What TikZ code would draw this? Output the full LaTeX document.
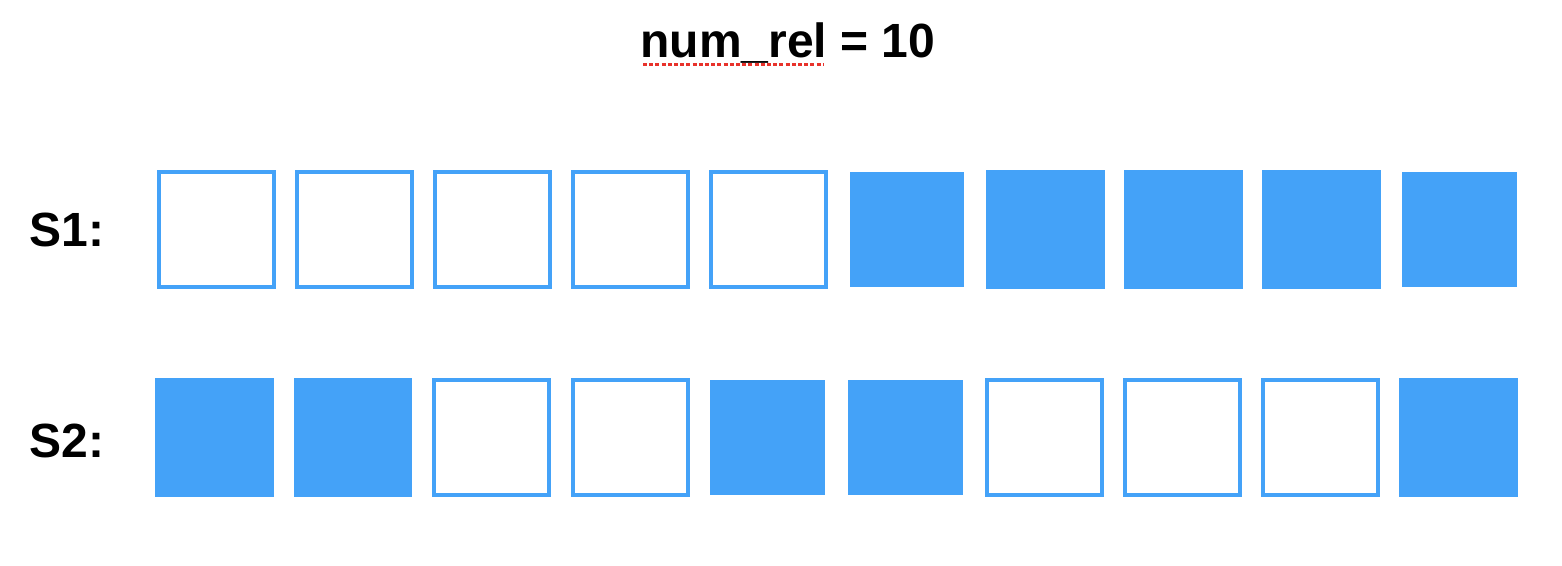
\documentclass[tikz,border=0pt]{standalone}
\usepackage{fontspec}
\setmainfont{Liberation Sans}
\definecolor{cellblue}{HTML}{44A2F8}
\definecolor{spellred}{HTML}{E8322B}
\tikzset{
  lbl/.style={font=\fontsize{24pt}{28pt}\selectfont\bfseries, inner sep=0pt, anchor=base},
  obox/.style={draw=cellblue, line width=2pt, fill=white, inner sep=0pt, minimum width=57.5pt, minimum height=57.5pt},
  fbox/.style={fill=cellblue, inner sep=0pt},
}
\begin{document}
\begin{tikzpicture}[x=0.5pt,y=-0.5pt]
\useasboundingbox (0,0) rectangle (1562,566);
% title
\draw[spellred, line width=1.3pt, dash pattern=on 2pt off 1.1pt] (643,64.5) -- (823,64.5);
\node[lbl] (title) at (788,58) {num\_rel = 10};
\node[lbl, anchor=base west] (s1) at (29,247) {S1:};
\node[lbl, anchor=base west] (s2) at (29,457) {S2:};
% row 1
\node[obox] (a1) at (216.5,229.5) {};
\node[obox] (a2) at (354.5,229.5) {};
\node[obox] (a3) at (492,229.5) {};
\node[obox] (a4) at (630,229.5) {};
\node[obox] (a5) at (768,229.5) {};
\node[fbox, minimum width=57pt, minimum height=57.5pt] (a6) at (907,229.5) {};
\node[fbox, minimum width=59.5pt, minimum height=59.5pt] (a7) at (1045.5,229.5) {};
\node[fbox, minimum width=59.5pt, minimum height=59.5pt] (a8) at (1183.5,229.5) {};
\node[fbox, minimum width=59.5pt, minimum height=59.5pt] (a9) at (1321.5,229.5) {};
\node[fbox, minimum width=57.5pt, minimum height=57.5pt] (a10) at (1459.5,229.5) {};
% row 2
\node[fbox, minimum width=59.5pt, minimum height=59.5pt] (b1) at (214.5,437.5) {};
\node[fbox, minimum width=59pt, minimum height=59.5pt] (b2) at (353,437.5) {};
\node[obox] (b3) at (491.5,437.5) {};
\node[obox] (b4) at (630,437.5) {};
\node[fbox, minimum width=57.5pt, minimum height=57.5pt] (b5) at (767.5,437.5) {};
\node[fbox, minimum width=57.5pt, minimum height=57.5pt] (b6) at (905.5,437.5) {};
\node[obox] (b7) at (1044,437.5) {};
\node[obox] (b8) at (1182,437.5) {};
\node[obox] (b9) at (1320,437.5) {};
\node[fbox, minimum width=59.5pt, minimum height=59.5pt] (b10) at (1458.5,437.5) {};
\end{tikzpicture}
\end{document}
